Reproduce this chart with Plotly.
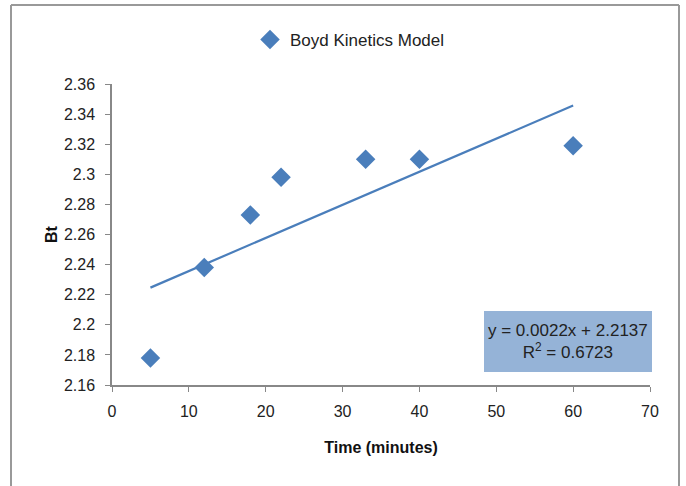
import plotly.graph_objects as go

# Data
time_min = [5, 12, 18, 22, 33, 40, 60]
bt_values = [2.178, 2.238, 2.273, 2.298, 2.310, 2.310, 2.319]
series_name = "Boyd Kinetics Model"
fit_slope = 0.0022
fit_intercept = 2.2137
fit_r2 = 0.6723
fit_x = [min(time_min), max(time_min)]
fit_y = [fit_slope * x + fit_intercept for x in fit_x]
x_ticks = [0, 10, 20, 30, 40, 50, 60, 70]
y_ticks = [2.16, 2.18, 2.2, 2.22, 2.24, 2.26, 2.28, 2.3, 2.32, 2.34, 2.36]
y_tick_labels = ["2.16", "2.18", "2.2", "2.22", "2.24", "2.26", "2.28", "2.3", "2.32", "2.34", "2.36"]

BLUE = "#4A7EBB"
FONT = "Liberation Sans, Arial, sans-serif"

W, H = 686, 486
L, R, T, B = 112, 36, 84, 101
pw, ph = W - L - R, H - T - B

def px(xp):
    return (xp - L) / pw

def py(yp):
    return (H - B - yp) / ph

fig = go.Figure()
fig.add_trace(go.Scatter(
    x=fit_x, y=fit_y, mode="lines",
    line=dict(color=BLUE, width=2.2), showlegend=False, hoverinfo="skip"))
fig.add_trace(go.Scatter(
    x=time_min, y=bt_values, mode="markers", name=series_name,
    marker=dict(symbol="diamond", size=15, color=BLUE, line=dict(width=0))))

fig.update_layout(
    width=W, height=H,
    margin=dict(l=L, r=R, t=T, b=B),
    paper_bgcolor="white", plot_bgcolor="white",
    font=dict(family=FONT, size=16, color="#222222"),
    showlegend=True,
    legend=dict(orientation="h", x=px(350), xanchor="center", y=py(40), yanchor="middle",
                font=dict(family=FONT, size=17, color="#222222"), itemwidth=30,
                bgcolor="rgba(0,0,0,0)"),
    xaxis=dict(range=[0, 70], tickvals=x_ticks, showgrid=False, zeroline=False,
               showline=True, linecolor="#888888", linewidth=1.5,
               ticks="outside", ticklen=5, tickcolor="#888888", ticklabelstandoff=6,
               tickfont=dict(family=FONT, size=16, color="#222222"),
               title=dict(text="<b>Time (minutes)</b>", font=dict(family=FONT, size=16, color="#111111"),
                          standoff=23)),
    yaxis=dict(range=[2.16, 2.36], tickvals=y_ticks, ticktext=y_tick_labels, showgrid=False,
               zeroline=False, showline=True, linecolor="#888888", linewidth=1.5,
               ticks="outside", ticklen=5, tickcolor="#888888", ticklabelstandoff=7,
               tickfont=dict(family=FONT, size=16, color="#222222"),
               title=dict(text="<b>Bt</b>", font=dict(family=FONT, size=16, color="#111111"),
                          standoff=2)),
)

# outer frame (three visible sides)
for (xa, ya, xb, yb) in [(11, 5, 679, 5), (11, 5, 11, 486), (679, 5, 679, 486)]:
    fig.add_shape(type="line", xref="paper", yref="paper",
                  x0=px(xa), y0=py(ya), x1=px(xb), y1=py(yb),
                  line=dict(color="#999999", width=2))

# equation box
fig.add_shape(type="rect", xref="paper", yref="paper",
              x0=px(484), x1=px(652), y0=py(372), y1=py(311),
              line=dict(width=0), fillcolor="#95B3D7", layer="below")
fig.add_annotation(xref="paper", yref="paper", x=px(568), y=py(341.5),
                   xanchor="center", yanchor="middle",
                   text=f"y = {fit_slope}x + {fit_intercept}<br>R<sup>2</sup> = {fit_r2}",
                   showarrow=False, align="center",
                   font=dict(family=FONT, size=17, color="#222222"))

fig.write_html("out.html")
